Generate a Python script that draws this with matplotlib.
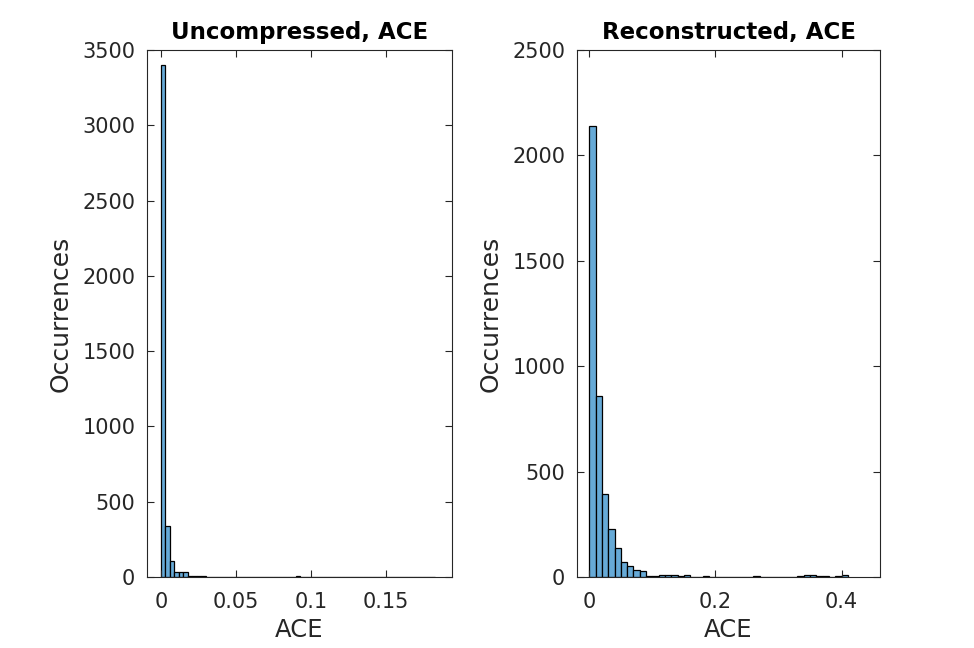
import numpy as np
import matplotlib
matplotlib.use("Agg")
import matplotlib.pyplot as plt

plt.rcParams['font.family'] = ['DejaVu Sans']

# Left histogram: uncompressed ACE (bin width 0.003, starting at 0)
left_bin_width = 0.003
left_counts = [3400, 339, 106, 33, 33, 33, 4, 4, 4, 4,
               0, 0, 0, 3, 0, 0, 0, 3, 0, 0,
               0, 0, 0, 0, 0, 0, 0, 0, 0, 0,
               4, 0, 0, 0, 0, 0, 0, 0, 0, 0,
               0, 0, 0, 0, 0, 0, 0, 0, 0, 0,
               0, 0, 0, 3, 0, 3, 0, 0, 3, 3,
               3]

# Right histogram: reconstructed ACE (bin width 0.01, starting at 0)
right_bin_width = 0.01
right_counts = [2140, 858, 392, 226, 136, 70, 51, 32, 27, 3,
                3, 8, 8, 8, 3, 8, 0, 0, 3, 0,
                0, 0, 0, 0, 0, 0, 3, 0, 0, 0,
                0, 0, 0, 3, 8, 8, 3, 3, 0, 3,
                8]

titles = ["Uncompressed, ACE", "Reconstructed, ACE"]
xlabel = "ACE"
ylabel = "Occurrences"
left_xticks = [0, 0.05, 0.1, 0.15]
left_xticklabels = ["0", "0.05", "0.1", "0.15"]
left_yticks = [0, 500, 1000, 1500, 2000, 2500, 3000, 3500]
right_xticks = [0, 0.2, 0.4]
right_xticklabels = ["0", "0.2", "0.4"]
right_yticks = [0, 500, 1000, 1500, 2000, 2500]

face = (0.4, 0.6682, 0.8446)
axcol = '#262626'

fig = plt.figure(figsize=(9.74, 6.48), dpi=100)
W, H = 974, 648
axL = fig.add_axes([147 / W, (H - 577) / H, (452 - 147) / W, 527 / H])
axR = fig.add_axes([577 / W, (H - 577) / H, (880 - 577) / W, 527 / H])


def draw(ax, counts, bw, xlim, ylim, xticks, xtl, yticks, title):
    n = len(counts)
    lefts = np.arange(n) * bw
    ax.bar(lefts, counts, width=bw, align='edge', color=face,
           edgecolor='black', linewidth=0.9)
    ax.set_xlim(*xlim)
    ax.set_ylim(*ylim)
    ax.set_xticks(xticks)
    ax.set_xticklabels(xtl)
    ax.set_yticks(yticks)
    ax.set_yticklabels([str(v) for v in yticks])
    ax.tick_params(direction='in', length=5, width=0.8, colors=axcol,
                   labelsize=15, top=True, right=True)
    ax.tick_params(axis='x', pad=11)
    ax.tick_params(axis='y', pad=8.5)
    for s in ax.spines.values():
        s.set_color(axcol)
        s.set_linewidth(0.8)
    ax.set_title(title, fontsize=16.5, fontweight='bold', pad=8)
    ax.set_xlabel(xlabel, fontsize=17.5, color=axcol, labelpad=4)
    ax.set_ylabel(ylabel, fontsize=18, color=axcol, labelpad=7)


draw(axL, left_counts, left_bin_width, (-0.00933, 0.194), (0, 3500),
     left_xticks, left_xticklabels, left_yticks, titles[0])
draw(axR, right_counts, right_bin_width, (-0.0195, 0.461), (0, 2500),
     right_xticks, right_xticklabels, right_yticks, titles[1])

fig.savefig("out.png", dpi=100)
